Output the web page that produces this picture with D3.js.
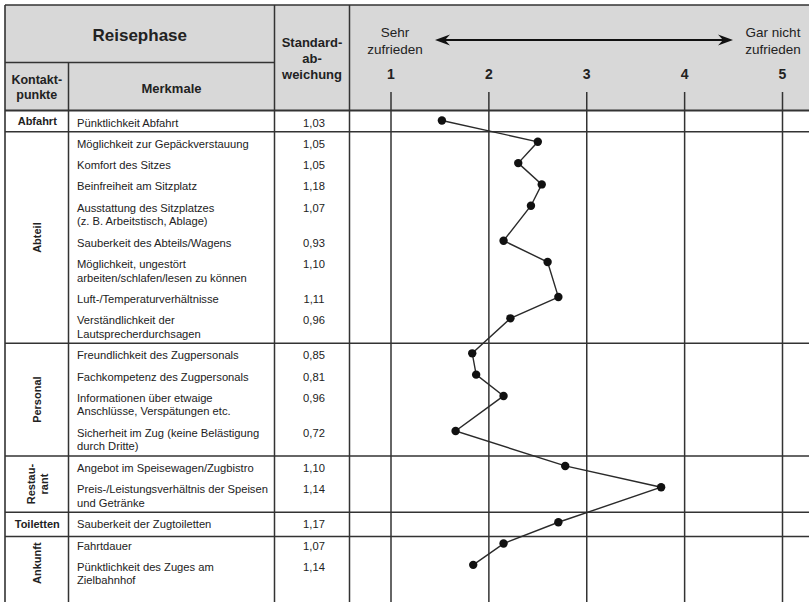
<!DOCTYPE html>
<html><head><meta charset="utf-8">
<script src="https://cdn.jsdelivr.net/npm/d3@7"></script>
<style>body{margin:0;background:#fff}svg{display:block;font-family:"Liberation Sans",Arial,sans-serif}</style>
</head><body><svg id="c" width="809" height="602"></svg>
<script>
// ---------- data ----------
const kontaktpunkte = [["Abfahrt"],["Abteil"],["Personal"],["Restau-","rant"],["Toiletten"],["Ankunft"]];
const merkmale = [
  ["Pünktlichkeit Abfahrt"],
  ["Möglichkeit zur Gepäckverstauung"],
  ["Komfort des Sitzes"],
  ["Beinfreiheit am Sitzplatz"],
  ["Ausstattung des Sitzplatzes","(z. B. Arbeitstisch, Ablage)"],
  ["Sauberkeit des Abteils/Wagens"],
  ["Möglichkeit, ungestört","arbeiten/schlafen/lesen zu können"],
  ["Luft-/Temperaturverhältnisse"],
  ["Verständlichkeit der","Lautsprecherdurchsagen"],
  ["Freundlichkeit des Zugpersonals"],
  ["Fachkompetenz des Zugpersonals"],
  ["Informationen über etwaige","Anschlüsse, Verspätungen etc."],
  ["Sicherheit im Zug (keine Belästigung","durch Dritte)"],
  ["Angebot im Speisewagen/Zugbistro"],
  ["Preis-/Leistungsverhältnis der Speisen","und Getränke"],
  ["Sauberkeit der Zugtoiletten"],
  ["Fahrtdauer"],
  ["Pünktlichkeit des Zuges am","Zielbahnhof"]
];
const gruppe = [0,1,1,1,1,1,1,1,1,2,2,2,2,3,3,4,5,5];
const standardabweichung = [1.03,1.05,1.05,1.18,1.07,0.93,1.10,1.11,0.96,0.85,0.81,0.96,0.72,1.10,1.14,1.17,1.07,1.14];
const mittelwerte = [1.52,2.50,2.30,2.54,2.43,2.15,2.60,2.71,2.22,1.83,1.87,2.15,1.66,2.78,3.76,2.71,2.15,1.84];
const skalaTicks = [1,2,3,4,5];
const skalaLinks = ["Sehr","zufrieden"];
const skalaRechts = ["Gar nicht","zufrieden"];
const kopfReise = "Reisephase";
const kopfKontakt = ["Kontakt-","punkte"];
const kopfMerkmale = "Merkmale";
const kopfStd = ["Standard-","ab-","weichung"];

// ---------- layout ----------
const W = 809, H = 602;
const xL = 5, xK = 68.5, xM = 274.5, xS = 349.5, xR = 809;
const yTop = 5, yMid = 62.5, bodyTop = 110.5;
const lineC = "#333", textC = "#222";
const sepShift = [0,0,0,0,3,0];

const svg = d3.select("#c");
const x = d3.scaleLinear().domain([1,5]).range([391, 782.5]);
// y in "text-line units": each item takes lines + 0.555 units
const y = d3.scaleLinear().domain([0,1]).range([bodyTop, bodyTop + 13.7]);

let cum = 0;
const items = merkmale.map((m,i) => {
  const top = cum; cum += m.length + 0.555;
  return {lines:m, top, g:gruppe[i], sd:standardabweichung[i], v:mittelwerte[i]};
});
const sections = kontaktpunkte.map((k,gi) => {
  const its = items.filter(d => d.g === gi);
  return {label:k, start:its[0].top, end:its[its.length-1].top + its[its.length-1].lines.length + 0.555, n:its.length, gi};
});
sections.forEach((s,i) => {
  s.y0 = i === 0 ? bodyTop : sections[i-1].y1;
  s.y1 = y(s.end) + sepShift[i];
});

const fmt = d3.formatLocale({decimal:",", thousands:".", grouping:[3], currency:["","€"]}).format(".2f");

// header background
svg.append("rect").attr("x",xL).attr("y",yTop).attr("width",xR-xL).attr("height",bodyTop-yTop).attr("fill","#d8d8d8");

// grid lines
svg.append("g").selectAll("line").data(skalaTicks).join("line")
  .attr("x1",d=>x(d)).attr("x2",d=>x(d)).attr("y1",92).attr("y2",H)
  .attr("stroke",lineC).attr("stroke-width",1.5);

// tick labels
svg.append("g").selectAll("text").data(skalaTicks).join("text")
  .attr("x",d=>x(d)).attr("y",74).attr("dominant-baseline","central")
  .attr("text-anchor","middle").attr("font-size",14).attr("font-weight","bold").attr("fill",textC)
  .text(d=>d);

// section separators
svg.append("g").selectAll("line").data(sections.slice(0,-1)).join("line")
  .attr("x1",xL).attr("x2",xR).attr("y1",d=>d.y1).attr("y2",d=>d.y1)
  .attr("stroke",lineC).attr("stroke-width",1.5);

// table frame
const frame = [
  [xL,yTop,xR,yTop,1.6],
  [xL,yTop,xL,H,1.6],
  [xK,yMid,xK,H,1.5],
  [xM,yTop,xM,H,1.5],
  [xS,yTop,xS,H,1.5],
  [xL,yMid,xM,yMid,1.5],
  [xL,bodyTop,xR,bodyTop,2.2]
];
svg.append("g").selectAll("line").data(frame).join("line")
  .attr("x1",d=>d[0]).attr("y1",d=>d[1]).attr("x2",d=>d[2]).attr("y2",d=>d[3])
  .attr("stroke",lineC).attr("stroke-width",d=>d[4]);

// header texts
const ht = svg.append("g").attr("fill",textC).attr("font-weight","bold").attr("text-anchor","middle");
ht.append("text").attr("x",(xL+xM)/2).attr("y",35).attr("dominant-baseline","central").attr("font-size",17).text(kopfReise);
ht.append("text").attr("x",(xL+xK)/2).attr("font-size",12.5).selectAll("tspan").data(kopfKontakt).join("tspan")
  .attr("x",(xL+xK)/2).attr("y",(d,i)=>80+i*15).attr("dominant-baseline","central").text(d=>d);
ht.append("text").attr("x",(xK+xM)/2).attr("y",88).attr("dominant-baseline","central").attr("font-size",13).text(kopfMerkmale);
ht.append("text").attr("font-size",13).selectAll("tspan").data(kopfStd).join("tspan")
  .attr("x",(xM+xS)/2).attr("y",(d,i)=>42.5+i*16).attr("dominant-baseline","central").text(d=>d);

const sc = svg.append("g").attr("fill",textC).attr("font-size",13.5).attr("text-anchor","middle");
sc.append("text").selectAll("tspan").data(skalaLinks).join("tspan")
  .attr("x",395).attr("y",(d,i)=>32+i*17).attr("dominant-baseline","central").text(d=>d);
sc.append("text").selectAll("tspan").data(skalaRechts).join("tspan")
  .attr("x",773).attr("y",(d,i)=>32+i*17).attr("dominant-baseline","central").text(d=>d);

// arrow
const ay = 40, ax0 = 435, ax1 = 733;
svg.append("line").attr("x1",ax0+8).attr("x2",ax1-8).attr("y1",ay).attr("y2",ay).attr("stroke","#111").attr("stroke-width",2.2);
svg.append("path").attr("fill","#111")
  .attr("d",`M${ax0},${ay} L${ax0+15},${ay-5.5} L${ax0+10},${ay} L${ax0+15},${ay+5.5} Z M${ax1},${ay} L${ax1-15},${ay-5.5} L${ax1-10},${ay} L${ax1-15},${ay+5.5} Z`);

// kontaktpunkte labels
const kp = svg.append("g").attr("fill",textC).attr("font-weight","bold").attr("font-size",11).attr("text-anchor","middle");
sections.forEach(s => {
  const cx = (xL+xK)/2 + 0.5, cy = (s.y0 + s.y1)/2;
  if (s.n === 1) {
    kp.append("text").attr("x",cx).attr("y",cy).attr("dominant-baseline","central").text(s.label[0]);
  } else {
    const t = kp.append("text").attr("transform",`translate(${cx},${cy}) rotate(-90)`);
    const off = (s.label.length-1)*13/2;
    t.selectAll("tspan").data(s.label).join("tspan")
      .attr("x",0).attr("y",(d,i)=>i*13-off).attr("dominant-baseline","central").text(d=>d);
  }
});

// merkmale text + std
const mt = svg.append("g").attr("fill",textC).attr("font-size",11.2);
const rows = mt.selectAll("g").data(items).join("g");
rows.append("text").selectAll("tspan").data(d=>d.lines.map((l,i)=>({l,i,top:d.top}))).join("tspan")
  .attr("x",77).attr("y",d=>y(d.top)+12+d.i*13.5).attr("dominant-baseline","central").text(d=>d.l);
rows.append("text").attr("x",314).attr("y",d=>y(d.top)+12).attr("dominant-baseline","central")
  .attr("text-anchor","middle").text(d=>fmt(d.sd));

// profile line
const py = d => y(d.top) + 10;
svg.append("path").datum(items)
  .attr("d", d3.line().x(d=>x(d.v)).y(py))
  .attr("fill","none").attr("stroke","#2a2a2a").attr("stroke-width",1.4);
svg.append("g").selectAll("circle").data(items).join("circle")
  .attr("cx",d=>x(d.v)).attr("cy",py).attr("r",4.2).attr("fill","#111");
</script></body></html>
